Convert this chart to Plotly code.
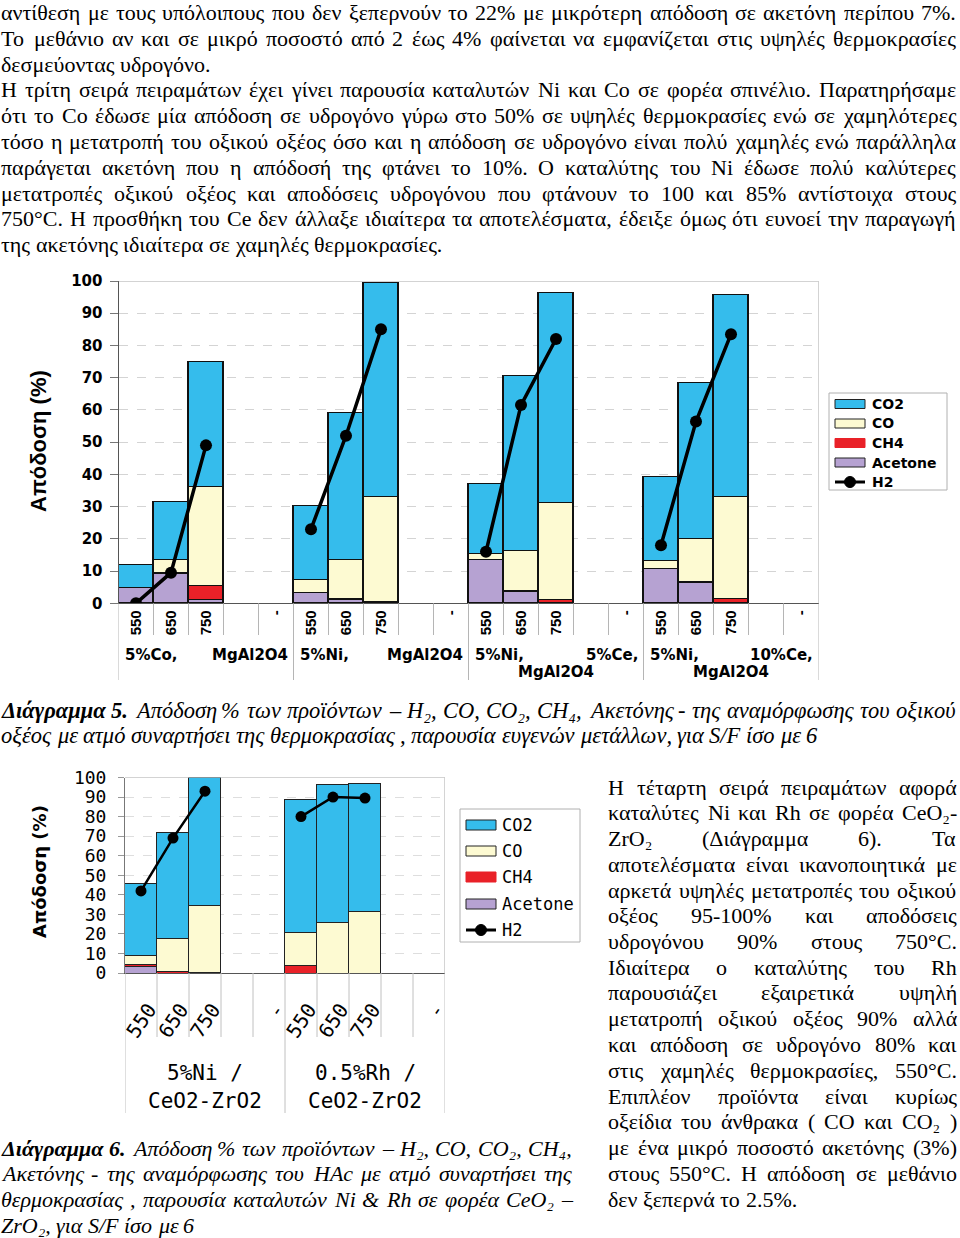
import os, re, glob, struct
import plotly.graph_objects as go

W, H = 960, 1238


def px(x):
    return x / W


def py(y):
    return 1 - y / H


# ---------------------------------------------------------------- data
# Διάγραμμα 5 : four catalysts x (550, 650, 750, blank, "-")
ticks1 = ["550", "650", "750", "", "-",
          "550", "650", "750", "", "-",
          "550", "650", "750", "", "-",
          "550", "650", "750", "", "-"]
acetone1 = [4.8, 9.0, 1.1, None, None, 3.2, 1.0, 0.0, None, None,
            13.4, 3.4, 0.2, None, None, 10.6, 6.2, 0.2, None, None]
ch4_1 = [0.0, 0.5, 4.4, None, None, 0.0, 0.3, 0.3, None, None,
         0.0, 0.3, 0.8, None, None, 0.0, 0.4, 1.2, None, None]
co_1 = [0.0, 4.0, 30.5, None, None, 4.0, 12.2, 32.7, None, None,
        1.9, 12.5, 30.2, None, None, 2.6, 13.4, 31.5, None, None]
co2_1 = [7.0, 18.0, 39.0, None, None, 23.0, 45.5, 66.5, None, None,
         21.6, 54.3, 65.2, None, None, 26.1, 48.3, 62.8, None, None]
h2_1 = [0.0, 9.5, 49.0, None, None, 23.0, 52.0, 85.0, None, None,
        16.0, 61.5, 82.0, None, None, 18.0, 56.4, 83.5, None, None]
group_left1 = ["5%Co,", "5%Ni,", "5%Ni,", "5%Ni,"]
group_right1 = ["MgAl2O4", "MgAl2O4", "5%Ce,", "10%Ce,"]
group_line2_1 = ["", "", "MgAl2O4", "MgAl2O4"]

# Διάγραμμα 6 : two catalysts
ticks2 = ["550", "650", "750", "", "-",
          "550", "650", "750", "", "-"]
acetone2 = [3.2, 0.0, 0.0, None, None, 0.0, 0.0, 0.0, None, None]
ch4_2 = [1.3, 0.8, 0.3, None, None, 3.6, 0.0, 0.0, None, None]
co_2 = [4.7, 16.7, 34.3, None, None, 16.9, 25.7, 31.3, None, None]
co2_2 = [36.7, 54.5, 65.4, None, None, 68.5, 70.5, 65.8, None, None]
h2_2 = [42.0, 69.0, 93.0, None, None, 80.0, 90.0, 89.5, None, None]
group_line1_2 = ["5%Ni /", "0.5%Rh /"]
group_line2_2 = ["CeO2-ZrO2", "CeO2-ZrO2"]

series_names = ["CO2", "CO", "CH4", "Acetone", "H2"]

C_CO2 = "#35BCEC"
C_CO = "#FDFAD2"
C_CH4 = "#E92128"
C_ACE = "#B6A2D2"

# ---------------------------------------------------------------- text
TOP_LINES = [
    ("αντίθεση με τους υπόλοιπους που δεν ξεπερνούν το 22% με μικρότερη απόδοση σε ακετόνη περίπου 7%.", True),
    ("Το μεθάνιο αν και σε μικρό ποσοστό από 2 έως 4% φαίνεται να εμφανίζεται στις υψηλές θερμοκρασίες", True),
    ("δεσμεύοντας υδρογόνο.", False),
    ("Η τρίτη σειρά πειραμάτων έχει γίνει παρουσία καταλυτών Ni και Co σε φορέα σπινέλιο. Παρατηρήσαμε", True),
    ("ότι το Co έδωσε μία απόδοση σε υδρογόνο γύρω στο 50% σε υψηλές θερμοκρασίες ενώ σε χαμηλότερες", True),
    ("τόσο η μετατροπή του οξικού οξέος όσο και η απόδοση σε υδρογόνο είναι πολύ χαμηλές ενώ παράλληλα", True),
    ("παράγεται ακετόνη που η απόδοσή της φτάνει το 10%. Ο καταλύτης του Ni έδωσε πολύ καλύτερες", True),
    ("μετατροπές οξικού οξέος και αποδόσεις υδρογόνου που φτάνουν το 100 και 85% αντίστοιχα στους", True),
    ("750°C. Η προσθήκη του Ce δεν άλλαξε ιδιαίτερα τα αποτελέσματα, έδειξε όμως ότι ευνοεί την παραγωγή", True),
    ("της ακετόνης ιδιαίτερα σε χαμηλές θερμοκρασίες.", False),
]
CAP5_LINES = [
    ("*Διάγραμμα *5. Απόδοση % των προϊόντων – H₂, CO, CO₂, CH₄, Ακετόνης - της αναμόρφωσης του οξικού", True),
    ("οξέος με ατμό συναρτήσει της θερμοκρασίας , παρουσία ευγενών μετάλλων, για S/F ίσο με 6", False),
]
RIGHT_LINES = [
    ("Η τέταρτη σειρά πειραμάτων αφορά", True),
    ("καταλύτες Ni και Rh σε φορέα CeO₂-", True),
    ("ZrO₂ (Διάγραμμα 6). Τα", True),
    ("αποτελέσματα είναι ικανοποιητικά με", True),
    ("αρκετά υψηλές μετατροπές του οξικού", True),
    ("οξέος 95-100% και αποδόσεις", True),
    ("υδρογόνου 90% στους 750°C.", True),
    ("Ιδιαίτερα ο καταλύτης του Rh", True),
    ("παρουσιάζει εξαιρετικά υψηλή", True),
    ("μετατροπή οξικού οξέος 90% αλλά", True),
    ("και απόδοση σε υδρογόνο 80% και", True),
    ("στις χαμηλές θερμοκρασίες, 550°C.", True),
    ("Επιπλέον προϊόντα είναι κυρίως", True),
    ("οξείδια του άνθρακα ( CO και CO₂ )", True),
    ("με ένα μικρό ποσοστό ακετόνης (3%)", True),
    ("στους 550°C. Η απόδοση σε μεθάνιο", True),
    ("δεν ξεπερνά το 2.5%.", False),
]
CAP6_LINES = [
    ("*Διάγραμμα *6. Απόδοση % των προϊόντων – H₂, CO, CO₂, CH₄,", True),
    ("Ακετόνης - της αναμόρφωσης του HAc με ατμό συναρτήσει της", True),
    ("θερμοκρασίας , παρουσία καταλυτών Ni &amp; Rh σε φορέα CeO₂ –", True),
    ("ZrO₂, για S/F ίσο με 6", False),
]


# ---------------------------------------------------------------- font metrics (for justified text)
class TTF:
    def __init__(self, path):
        d = open(path, "rb").read()
        self.d = d
        n = struct.unpack(">H", d[4:6])[0]
        t = {}
        for i in range(n):
            o = 12 + 16 * i
            tag = d[o:o + 4].decode("latin1")
            _, toff, tlen = struct.unpack(">III", d[o + 4:o + 16])
            t[tag] = toff
        self.upem = struct.unpack(">H", d[t["head"] + 18:t["head"] + 20])[0]
        nhm = struct.unpack(">H", d[t["hhea"] + 34:t["hhea"] + 36])[0]
        hm = t["hmtx"]
        self.adv = [struct.unpack(">H", d[hm + 4 * i:hm + 4 * i + 2])[0] for i in range(nhm)]
        cm = t["cmap"]
        nt = struct.unpack(">H", d[cm + 2:cm + 4])[0]
        sub = None
        for i in range(nt):
            pid, eid, off = struct.unpack(">HHI", d[cm + 4 + 8 * i:cm + 12 + 8 * i])
            fmt = struct.unpack(">H", d[cm + off:cm + off + 2])[0]
            if fmt == 4 and (pid == 3 or pid == 0):
                sub = cm + off
                break
        segx2 = struct.unpack(">H", d[sub + 6:sub + 8])[0]
        seg = segx2 // 2
        self.seg = seg
        self.ends = struct.unpack(">%dH" % seg, d[sub + 14:sub + 14 + segx2])
        self.starts = struct.unpack(">%dH" % seg, d[sub + 16 + segx2:sub + 16 + 2 * segx2])
        self.deltas = struct.unpack(">%dh" % seg, d[sub + 16 + 2 * segx2:sub + 16 + 3 * segx2])
        self.rpos = sub + 16 + 3 * segx2
        self.roffs = struct.unpack(">%dH" % seg, d[self.rpos:self.rpos + segx2])
        self.cache = {}

    def glyph(self, ch):
        c = ord(ch)
        for i in range(self.seg):
            if self.starts[i] <= c <= self.ends[i]:
                if self.roffs[i] == 0:
                    return (c + self.deltas[i]) & 0xFFFF
                a = self.rpos + 2 * i + self.roffs[i] + 2 * (c - self.starts[i])
                g = struct.unpack(">H", self.d[a:a + 2])[0]
                return (g + self.deltas[i]) & 0xFFFF if g else 0
        return 0

    def width(self, s, size):
        tot = 0
        for ch in s:
            if ch not in self.cache:
                g = self.glyph(ch)
                if g == 0 and ch in "₂₄":
                    self.cache[ch] = int(self.upem * 0.33)
                else:
                    self.cache[ch] = self.adv[g] if g < len(self.adv) else self.adv[-1]
            tot += self.cache[ch]
        return tot * size / self.upem


def load_ttf(fname):
    for base in ["/usr/share/fonts", "/usr/local/share/fonts",
                 os.path.expanduser("~/.fonts"), os.path.expanduser("~/.local/share/fonts")]:
        hits = glob.glob(os.path.join(base, "**", fname), recursive=True)
        if hits:
            try:
                return TTF(hits[0])
            except Exception:
                return None
    return None


SERIF = {
    (False, False): load_ttf("LiberationSerif-Regular.ttf"),
    (True, False): load_ttf("LiberationSerif-Italic.ttf"),
    (False, True): load_ttf("LiberationSerif-Bold.ttf"),
    (True, True): load_ttf("LiberationSerif-BoldItalic.ttf"),
}


def measure(word, size, italic, bold):
    word = word.replace("&amp;", "&")
    f = SERIF.get((italic, bold))
    if f is None:
        return len(word) * 0.48 * size
    return f.width(word, size)


annotations = []
SERIF_FAMILY = "Liberation Serif"


def text_line(raw, x0, x1, y, size, italic=False, justify=True):
    items = []
    for w in raw.split():
        b = w.startswith("*")
        items.append((w.lstrip("*"), b))
    widths = [measure(w, size, italic, b) for w, b in items]
    if justify and len(items) > 1:
        gap = max((x1 - x0 - sum(widths)) / (len(items) - 1), 2.0)
    else:
        gap = measure(" ", size, italic, False)
    x = x0
    for (w, b), wd in zip(items, widths):
        t = w
        if b:
            t = "<b>" + t + "</b>"
        if italic:
            t = "<i>" + t + "</i>"
        annotations.append(dict(text=t, x=px(x), y=py(y), xref="paper", yref="paper",
                                xanchor="left", yanchor="middle", showarrow=False,
                                borderpad=0, borderwidth=0,
                                font=dict(family=SERIF_FAMILY, size=size, color="black")))
        x += wd + gap


for k, (line, just) in enumerate(TOP_LINES):
    text_line(line, 1, 956, 12.5 + 25.8 * k, 22, italic=False, justify=just)
for k, (line, just) in enumerate(CAP5_LINES):
    text_line(line, 1, 956, 710 + 25.8 * k, 22.5, italic=True, justify=just)
for k, (line, just) in enumerate(RIGHT_LINES):
    text_line(line, 608, 957, 787 + 25.75 * k, 22, italic=False, justify=just)
for k, (line, just) in enumerate(CAP6_LINES):
    text_line(line, 1, 572, 1148 + 25.7 * k, 22, italic=True, justify=just)

# ---------------------------------------------------------------- figure
fig = go.Figure()

x1 = list(range(len(ticks1)))
x2 = list(range(len(ticks2)))
tv1 = [i for i, t in enumerate(ticks1) if t]
tv2 = [i for i, t in enumerate(ticks2) if t]

for vals, col in [(acetone1, C_ACE), (ch4_1, C_CH4), (co_1, C_CO), (co2_1, C_CO2)]:
    fig.add_trace(go.Bar(x=x1, y=vals, width=1, xaxis="x", yaxis="y",
                         marker=dict(color=col, line=dict(color="#111", width=1.3)),
                         showlegend=False))
fig.add_trace(go.Scatter(x=x1, y=h2_1, xaxis="x", yaxis="y", mode="lines+markers",
                         line=dict(color="black", width=3.5),
                         marker=dict(color="black", size=12), showlegend=False))

for vals, col in [(acetone2, C_ACE), (ch4_2, C_CH4), (co_2, C_CO), (co2_2, C_CO2)]:
    fig.add_trace(go.Bar(x=x2, y=vals, width=1, xaxis="x2", yaxis="y2",
                         marker=dict(color=col, line=dict(color="#222", width=1)),
                         showlegend=False))
fig.add_trace(go.Scatter(x=x2, y=h2_2, xaxis="x2", yaxis="y2", mode="lines+markers",
                         line=dict(color="black", width=2.5),
                         marker=dict(color="black", size=11), showlegend=False))

# plot-area geometry (pixels)
C1 = dict(l=118.5, r=818.5, t=281.0, b=603.3)
C2 = dict(l=125.0, r=445.0, t=777.5, b=973.0)

fig.update_layout(
    template="none", width=W, height=H, margin=dict(l=0, r=0, t=0, b=0),
    paper_bgcolor="white", plot_bgcolor="white", barmode="stack", bargap=0,
    xaxis=dict(domain=[px(C1["l"]), px(C1["r"])], anchor="y", range=[-0.5, len(ticks1) - 0.5],
               tickmode="array", tickvals=tv1, ticktext=[ticks1[i] for i in tv1],
               tickangle=-90, ticks="",
               tickfont=dict(family="Liberation Sans", size=15, weight="bold", color="black"),
               showline=True, linecolor="#555", linewidth=1, showgrid=False, zeroline=False,
               automargin=False),
    yaxis=dict(domain=[py(C1["b"]), py(C1["t"])], anchor="x", range=[0, 100],
               tickmode="linear", tick0=0, dtick=10, ticks="outside", ticklen=8, tickcolor="#777",
               ticklabelstandoff=4,
               tickfont=dict(family="DejaVu Sans", size=15, weight="bold", color="black"),
               showline=True, linecolor="#555", linewidth=1, showgrid=True,
               gridcolor="#d4d4d4", griddash="dash", zeroline=False, automargin=False),
    xaxis2=dict(domain=[px(C2["l"]), px(C2["r"])], anchor="y2", range=[-0.5, len(ticks2) - 0.5],
                tickmode="array", tickvals=tv2, ticktext=[ticks2[i] for i in tv2],
                tickangle=-56, ticks="",
                tickfont=dict(family="DejaVu Sans Mono", size=20, color="black"),
                ticklabelstandoff=16, ticklabelshift=8,
                showline=True, linecolor="#555", linewidth=1, showgrid=False, zeroline=False,
                automargin=False),
    yaxis2=dict(domain=[py(C2["b"]), py(C2["t"])], anchor="x2", range=[0, 100],
                tickmode="linear", tick0=0, dtick=10, ticks="outside", ticklen=6, tickcolor="#999",
                ticklabelstandoff=8,
                tickfont=dict(family="DejaVu Sans Mono", size=18, color="black"),
                showline=True, linecolor="#777", linewidth=1, showgrid=True,
                gridcolor="#dedede", griddash="dash", zeroline=False, automargin=False),
)

shapes = []
# frames (top + right) and separator lines below the category axes
for xa, ya, n, grp, t_low, g_low, c, ybase in [("x", "y", len(ticks1), 5, 635, 680, "#b5b5b5", C1["b"]),
                                               ("x2", "y2", len(ticks2), 5, 1037, 1113, "#c0c0c0", C2["b"])]:
    shapes.append(dict(type="line", xref=xa, yref=ya, x0=-0.5, x1=n - 0.5, y0=100, y1=100,
                       line=dict(color="#a8a8a8", width=1)))
    shapes.append(dict(type="line", xref=xa, yref=ya, x0=n - 0.5, x1=n - 0.5, y0=0, y1=100,
                       line=dict(color="#a8a8a8", width=1)))
    for i in range(n + 1):
        low = g_low if i % grp == 0 else t_low
        shapes.append(dict(type="line", xref=xa, yref="paper", x0=i - 0.5, x1=i - 0.5,
                           y0=py(ybase), y1=py(low), line=dict(color=c, width=1)))

GF1 = dict(family="DejaVu Sans", size=15, weight="bold", color="black")
# group labels chart 1
for g in range(len(group_left1)):
    base = g * 5
    annotations.append(dict(text=group_left1[g], xref="x", yref="paper", x=base - 0.5, xshift=4,
                            y=py(655), xanchor="left", yanchor="middle", showarrow=False, font=GF1))
    annotations.append(dict(text=group_right1[g], xref="x", yref="paper", x=base + 4.5, xshift=-4,
                            y=py(655), xanchor="right", yanchor="middle", showarrow=False, font=GF1))
    if group_line2_1[g]:
        annotations.append(dict(text=group_line2_1[g], xref="x", yref="paper", x=base + 2,
                                y=py(672), xanchor="center", yanchor="middle", showarrow=False,
                                font=GF1))
# group labels chart 2
for g in range(len(group_line1_2)):
    base = g * 5
    for txt, yy in [(group_line1_2[g], 1073), (group_line2_2[g], 1101)]:
        annotations.append(dict(text=txt, xref="x2", yref="paper", x=base + 2, y=py(yy),
                                xanchor="center", yanchor="middle", showarrow=False,
                                font=dict(family="DejaVu Sans Mono", size=21, color="black")))

# y-axis titles
annotations.append(dict(text="Απόδοση (%)", x=px(38), y=py(441), xref="paper", yref="paper",
                        textangle=-90, showarrow=False, xanchor="center", yanchor="middle",
                        font=dict(family="Liberation Sans", size=22, weight="bold", color="black")))
annotations.append(dict(text="Απόδοση (%)", x=px(39), y=py(872), xref="paper", yref="paper",
                        textangle=-90, showarrow=False, xanchor="center", yanchor="middle",
                        font=dict(family="DejaVu Sans", size=18, weight="bold", color="black")))


# legends (drawn as boxes + swatches + labels)
def legend(box, rows, sw_x, sw_h, txt_x, font):
    shapes.append(dict(type="rect", xref="paper", yref="paper", x0=px(box[0]), x1=px(box[2]),
                       y0=py(box[3]), y1=py(box[1]), line=dict(color="#b0b0b0", width=1),
                       fillcolor="white", layer="above"))
    fills = [C_CO2, C_CO, C_CH4, C_ACE]
    borders = ["#222", "#222", C_CH4, "#222"]
    for i, name in enumerate(series_names):
        yy = rows[i]
        if i < 4:
            shapes.append(dict(type="rect", xref="paper", yref="paper", x0=px(sw_x[0]), x1=px(sw_x[1]),
                               y0=py(yy + sw_h / 2), y1=py(yy - sw_h / 2), fillcolor=fills[i],
                               line=dict(color=borders[i], width=1), layer="above"))
        else:
            shapes.append(dict(type="line", xref="paper", yref="paper", x0=px(sw_x[0]), x1=px(sw_x[1]),
                               y0=py(yy), y1=py(yy), line=dict(color="black", width=3), layer="above"))
            cx = (sw_x[0] + sw_x[1]) / 2
            shapes.append(dict(type="circle", xref="paper", yref="paper", x0=px(cx - 5.5), x1=px(cx + 5.5),
                               y0=py(yy + 5.5), y1=py(yy - 5.5), fillcolor="black",
                               line=dict(color="black", width=1), layer="above"))
        annotations.append(dict(text=name, x=px(txt_x), y=py(yy), xref="paper", yref="paper",
                                xanchor="left", yanchor="middle", showarrow=False, font=font))


legend((829, 393, 947, 490), [404, 423.5, 443, 462.5, 482], (835, 865), 9, 870,
       dict(family="DejaVu Sans", size=14, weight="bold", color="black"))
legend((460, 809, 580, 942), [825, 851, 877, 904, 930], (466, 496), 10, 500,
       dict(family="DejaVu Sans Mono", size=17, color="black"))

fig.update_layout(shapes=shapes, annotations=annotations)
fig.write_html("out.html")
